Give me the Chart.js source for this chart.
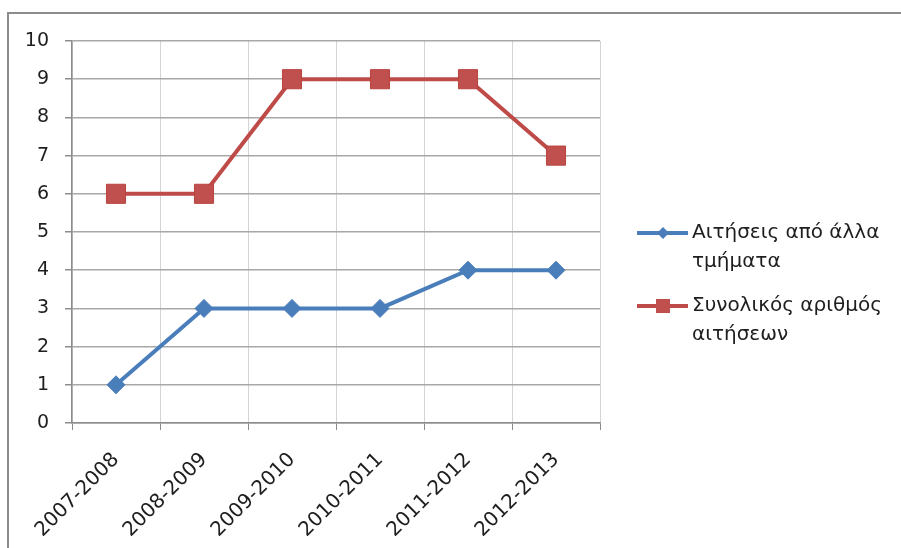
<!DOCTYPE html>
<html>
<head>
<meta charset="utf-8">
<script src="https://cdn.jsdelivr.net/npm/chart.js@4"></script>
<style>
  html, body { margin: 0; padding: 0; background: #fff; }
  #wrap { width: 901px; height: 548px; }
</style>
</head>
<body>
<div id="wrap"><canvas id="chart1Vis" width="901" height="548"></canvas></div>
<script>
var years = ["2007-2008", "2008-2009", "2009-2010", "2010-2011", "2011-2012", "2012-2013"];
var otherDeptRequests = [1, 3, 3, 3, 4, 4];
var totalRequests = [6, 6, 9, 9, 9, 7];
var yTicks = [0, 1, 2, 3, 4, 5, 6, 7, 8, 9, 10];
var legendOther = ["Αιτήσεις από άλλα", "τμήματα"];
var legendTotal = ["Συνολικός αριθμός", "αιτήσεων"];

var FONT = "DejaVu Sans";
var TEXT = "#1e1e1e";

// legend drawn by hand so the labels can wrap on two lines like the original
var sideLegend = {
    id: 'sideLegend',
    afterDraw: function(chart) {
        var ctx = chart.ctx;
        var lines = [legendOther, legendTotal];
        var rows = [233, 306];
        ctx.save();
        // frame (top and left edges only, the rest is cut off)
        ctx.strokeStyle = "#8c8c8c";
        ctx.lineWidth = 2;
        ctx.beginPath();
        ctx.moveTo(8, 548);
        ctx.lineTo(8, 13);
        ctx.lineTo(901, 13);
        ctx.stroke();

        chart.data.datasets.forEach(function(ds, i) {
            var y = rows[i];
            ctx.strokeStyle = ds.borderColor;
            ctx.lineWidth = 4;
            ctx.beginPath();
            ctx.moveTo(637, y);
            ctx.lineTo(688, y);
            ctx.stroke();
            ctx.fillStyle = ds.pointBackgroundColor;
            ctx.beginPath();
            if (ds.pointStyle === 'rect') {
                ctx.rect(656, y - 7, 14, 14);
            } else {
                ctx.moveTo(663 - 6, y); ctx.lineTo(663, y - 6);
                ctx.lineTo(663 + 6, y); ctx.lineTo(663, y + 6);
                ctx.closePath();
            }
            ctx.fill();
            ctx.fillStyle = TEXT;
            ctx.font = "20px '" + FONT + "'";
            ctx.textBaseline = 'middle';
            ctx.textAlign = 'left';
            lines[i].forEach(function(t, k) {
                ctx.fillText(t, 692, y + k * 29);
            });
        });
        ctx.restore();
    }
};

var ctx = document.getElementById("chart1Vis").getContext("2d");

var myLineChart = new Chart(ctx, {
    type: 'line',
    data: {
        labels: years,
        datasets: [
            {
                label: legendOther.join(" "),
                data: otherDeptRequests,
                borderColor: "#4A7EBB",
                backgroundColor: "#4A7EBB",
                pointBackgroundColor: "#4A7EBB",
                pointBorderColor: "#4A7EBB",
                borderWidth: 4,
                pointStyle: 'rectRot',
                pointRadius: 9,
                pointBorderWidth: 1,
                tension: 0
            },
            {
                label: legendTotal.join(" "),
                data: totalRequests,
                borderColor: "#BE4B48",
                backgroundColor: "#C0504D",
                pointBackgroundColor: "#C0504D",
                pointBorderColor: "#B8433F",
                borderWidth: 4,
                pointStyle: 'rect',
                pointRadius: 13.5,
                pointBorderWidth: 1,
                tension: 0
            }
        ]
    },
    options: {
        responsive: false,
        animation: false,
        layout: { padding: { left: 0, right: 301, top: 41, bottom: 0 } },
        plugins: {
            legend: { display: false },
            tooltip: { enabled: false }
        },
        scales: {
            x: {
                offset: true,
                grid: {
                    offset: true,
                    color: "#d4d4d4",
                    lineWidth: 1,
                    tickColor: "#8c8c8c",
                    tickLength: 7
                },
                border: { color: "#8c8c8c", width: 1.5 },
                ticks: {
                    minRotation: 45,
                    maxRotation: 45,
                    padding: 18,
                    color: TEXT,
                    font: { family: FONT, size: 20 }
                },
                afterFit: function(s) { s.height = 125; }
            },
            y: {
                min: 0,
                max: 10,
                afterBuildTicks: function(s) {
                    s.ticks = yTicks.map(function(v) { return { value: v }; });
                },
                grid: {
                    color: "#a8a8a8",
                    lineWidth: 1.5,
                    tickColor: "#8c8c8c",
                    tickLength: 7
                },
                border: { color: "#8c8c8c", width: 1.5 },
                ticks: {
                    padding: 16,
                    color: TEXT,
                    font: { family: FONT, size: 19 }
                },
                afterFit: function(s) { s.width = 72; }
            }
        }
    },
    plugins: [sideLegend]
});
</script>
</body>
</html>
